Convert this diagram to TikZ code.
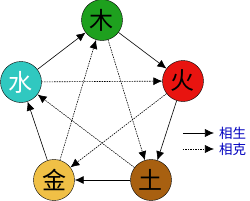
\documentclass[tikz,border=0pt]{standalone}
\usepackage{fontspec}
\newfontfamily\cjk{Noto Sans CJK SC}
\usetikzlibrary{arrows.meta}

\begin{document}
\begin{tikzpicture}[x=1pt, y=-1pt,
    element/.style={circle, draw=black, thin, minimum size=41pt, inner sep=0pt, font=\cjk\fontsize{24}{24}\selectfont},
    sheng/.style={-{Latex[length=9pt, width=8pt]}, line width=0.6pt},
    ke/.style={-{Latex[length=9pt, width=8pt]}, line width=0.6pt, dash pattern=on 1.5pt off 1pt},
    legendtext/.style={font=\cjk\fontsize{13.5}{13.5}\selectfont, text=blue!75!black, anchor=west, inner sep=0pt}]
    \useasboundingbox (0, 0) rectangle (250, 201);

    % the five elements
    \node[element, fill={rgb,255:red,30;green,160;blue,30}] (wood) at (102, 20) {木};
    \node[element, fill={rgb,255:red,232;green,20;blue,16}] (fire) at (183, 81) {火};
    \node[element, fill={rgb,255:red,168;green,96;blue,16}] (earth) at (151, 180) {土};
    \node[element, fill={rgb,255:red,240;green,192;blue,70}] (metal) at (54, 180) {金};
    \node[element, fill={rgb,255:red,48;green,200;blue,192}, text=white] (water) at (21, 82) {水};

    % generating cycle
    \draw[sheng] (wood) -- (fire);
    \draw[sheng] (fire) -- (earth);
    \draw[sheng] (earth) -- (metal);
    \draw[sheng] (metal) -- (water);
    \draw[sheng] (water) -- (wood);

    % overcoming cycle
    \draw[ke] (wood) -- (earth);
    \draw[ke] (earth) -- (water);
    \draw[ke] (water) -- (fire);
    \draw[ke] (fire) -- (metal);
    \draw[ke] (metal) -- (wood);

    % legend
    \coordinate (shengA) at (183, 133);
    \coordinate (shengB) at (214, 133);
    \coordinate (keA) at (183, 149);
    \coordinate (keB) at (214, 149);
    \draw[sheng] (shengA) -- (shengB);
    \draw[ke] (keA) -- (keB);
    \node[legendtext] (shenglabel) at (219, 133) {相生};
    \node[legendtext] (kelabel) at (219, 149) {相克};
\end{tikzpicture}
\end{document}
